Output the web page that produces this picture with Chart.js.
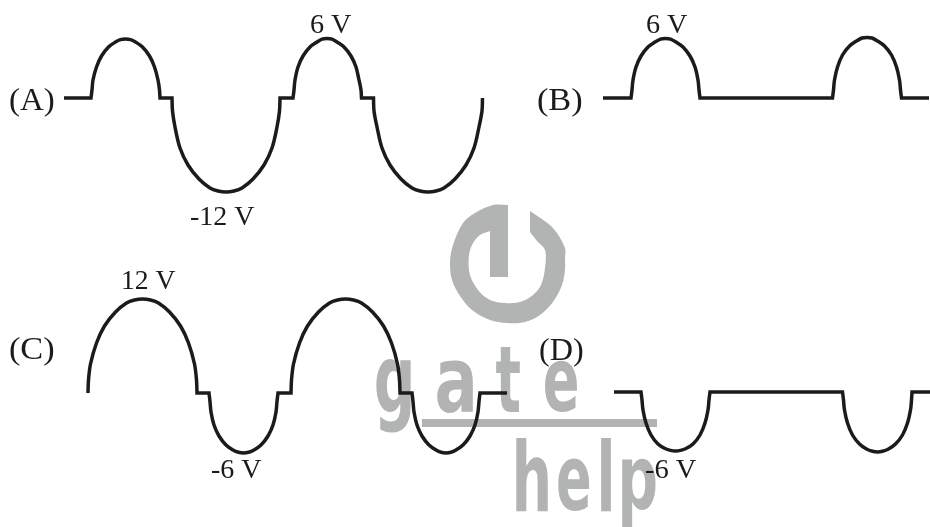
<!DOCTYPE html>
<html>
<head>
<meta charset="utf-8">
<script src="https://cdn.jsdelivr.net/npm/chart.js@4"></script>
<style>
    html, body { margin: 0; padding: 0; background: #fff; }
    canvas { display: block; }
</style>
</head>
<body>
<canvas id="waves" width="930" height="527"></canvas>
<script>
// all values, x and y in the picture's own units
// a point typed twice makes a sharp corner in the smoothed line
const waveAX = [64, 91, 91, 92, 93, 96.5, 101.5, 108.5, 115.5, 120.5, 125.5, 130.5, 135.5, 142.5, 149.5, 154.5, 158, 159.5, 160, 160,
    172, 172, 172.5, 175, 180, 188, 199, 210, 218, 226, 234, 242, 253, 264, 272, 277, 279.5, 280, 280,
    293, 293, 294, 295, 298, 303, 310, 317, 322, 327, 332, 337, 344, 351, 356, 359, 361, 361.5, 361.5,
    373.5, 373.5, 374, 377, 382, 390, 401, 412, 420, 428, 436, 444, 455, 466, 474, 479, 482, 482.5];
const waveAY = [98, 98, 98, 90, 80, 67, 56, 47, 42, 39.6, 39, 39.6, 42, 47, 56, 67, 80, 90, 98, 98,
    98, 98, 111, 127, 148, 165, 179, 188, 191, 192, 191, 188, 179, 165, 148, 127, 111, 98, 98,
    98, 98, 90, 80, 67, 56, 47, 42, 39.1, 38.5, 39.1, 42, 47, 56, 67, 80, 90, 98, 98,
    98, 98, 111, 127, 148, 165, 179, 188, 191, 192, 191, 188, 179, 165, 148, 127, 111, 98];

const waveBX = [603, 631, 631, 632, 633, 636, 641, 648, 655, 660.5, 665.5, 670.5, 676, 683, 690, 695, 698, 699, 700, 700,
    832.5, 832.5, 833.5, 834.5, 837.5, 842.5, 849.5, 856.5, 862, 867, 872, 877.5, 884.5, 891.5, 896.5, 899.5, 900.5, 901.5, 901.5, 929];
const waveBY = [98, 98, 98, 90, 80, 67, 56, 47, 42, 39.1, 38.5, 39.1, 42, 47, 56, 67, 80, 90, 98, 98,
    98, 98, 90, 80, 67, 55, 46, 41, 38, 37.5, 38, 41, 46, 55, 67, 80, 90, 98, 98, 98];

const waveCX = [88, 88.5, 90.5, 96.5, 104.5, 115.5, 126.5, 134.5, 142.5, 150.5, 158.5, 169.5, 180.5, 188.5, 194.5, 196.5, 197, 197,
    209, 209, 210, 211, 214, 219, 226, 233, 238.5, 243.5, 248.5, 254, 261, 268, 273, 276, 277, 278, 278,
    291, 291, 291.5, 293.5, 299.5, 307.5, 318.5, 329.5, 337.5, 345.5, 353.5, 361.5, 372.5, 383.5, 391.5, 397.5, 399.5, 400, 400,
    412, 412, 413, 414, 417, 422, 429, 436, 441, 446, 451, 456, 463, 470, 475, 478, 479, 480, 480, 507];
const waveCY = [393, 380, 364, 343, 326, 312, 303, 300, 299, 300, 303, 312, 326, 343, 364, 380, 393, 393,
    393, 393, 401.5, 412, 425, 436, 445, 450, 452.3, 453, 452.3, 450, 445, 436, 425, 412, 401.5, 393, 393,
    393, 393, 380, 364, 343, 326, 312, 303, 300, 299, 300, 303, 312, 326, 343, 364, 380, 393, 393,
    393, 393, 401.5, 412, 425, 436, 445, 450, 452.3, 453, 452.3, 450, 445, 436, 425, 412, 401.5, 393, 393, 393];

const waveDX = [614, 641, 641, 642, 643, 646, 651, 658, 665, 670.5, 675.5, 680.5, 686, 693, 700, 705, 708, 709, 710, 710,
    842.5, 842.5, 843.5, 844.5, 847.5, 852.5, 859.5, 866.5, 872.5, 877.5, 882.5, 888.5, 895.5, 902.5, 907.5, 910.5, 911.5, 912, 912, 930];
const waveDY = [392, 392, 392, 400, 410, 423, 435, 444, 448.5, 450.4, 451, 450.4, 448.5, 444, 435, 423, 410, 400, 392, 392,
    392, 392, 400, 410, 423, 435, 444, 449, 451.3, 452, 451.3, 449, 444, 435, 423, 410, 400, 392, 392, 392];

// the power-button logo behind the waves, traced as one outline
const logoX = [508, 508, 493, 475, 463, 453, 450, 452, 460, 472, 490, 507, 525, 540, 553, 562, 565, 565, 565, 553, 530, 530,
    530, 530, 537, 545, 545, 541, 533, 520, 505, 490, 478, 470, 468.7, 472, 480, 490, 490, 490, 490, 508, 508, 508];
const logoY = [205, 205, 205, 213, 223, 245, 262, 280, 296, 310, 320, 323, 322, 315, 302, 285, 270, 258, 248, 228, 211, 211,
    232, 232, 241, 250, 268, 285, 295, 302, 303, 300, 290, 275, 258, 245, 235, 231, 231, 277, 277, 277, 277, 205];
const ruleX = [422, 657];
const ruleY = [423, 423];

// text: string, left, right, baseline
const labelText = ['(A)', '(B)', '(C)', '(D)', '6 V', '6 V', '-12 V', '12 V', '-6 V', '-6 V'];
const labelLeft = [10, 538, 10, 540, 311, 647, 191, 123, 212, 646];
const labelRight = [54, 582, 54, 583, 352, 688, 255, 176, 262, 697];
const labelBase = [110, 110, 359, 360, 32.5, 32.5, 225, 289, 478, 478];
const labelSize = [32, 32, 32, 32, 27, 27, 27, 27, 27, 27];

// watermark letters: letter, left, right, top, bottom
const markText = ['g', 'a', 't', 'e', 'h', 'e', 'l', 'p'];
const markLeft = [376, 437, 496, 545, 516, 558, 601, 622];
const markRight = [411, 473, 520, 577, 548, 589, 611, 656];
const markTop = [360, 360, 347, 360, 438, 458, 438, 458];
const markBottom = [433, 413, 412, 412, 511, 511, 511, 527];

const INK = '#1c1a1b';
const GREY = '#b2b4b3';

function zip(xs, ys) {
    return xs.map((x, i) => ({x: x, y: ys[i]}));
}

function waveDataset(xs, ys) {
    return {
        data: zip(xs, ys),
        showLine: true,
        borderColor: INK,
        borderWidth: 3.5,
        tension: 0.33,
        pointRadius: 0,
        order: 0
    };
}

// stretch the text so it fills the same box as in the picture
function drawFitted(ctx, text, left, right, base) {
    const m = ctx.measureText(text);
    const sx = (right - left) / (m.actualBoundingBoxRight + m.actualBoundingBoxLeft);
    ctx.save();
    ctx.translate(left, base);
    ctx.scale(sx, 1);
    ctx.fillText(text, m.actualBoundingBoxLeft, 0);
    ctx.restore();
}

const watermarkPlugin = {
    id: 'watermark',
    beforeDatasetsDraw(chart) {
        const ctx = chart.ctx;
        const xs = chart.scales.x, ys = chart.scales.y;
        ctx.save();
        ctx.fillStyle = GREY;
        ctx.textBaseline = 'alphabetic';
        ctx.textAlign = 'left';
        ctx.font = 'bold 100px "DejaVu Sans"';
        markText.forEach((ch, i) => {
            const m = ctx.measureText(ch);
            const left = xs.getPixelForValue(markLeft[i]);
            const right = xs.getPixelForValue(markRight[i]);
            const top = ys.getPixelForValue(markTop[i]);
            const bottom = ys.getPixelForValue(markBottom[i]);
            const sx = (right - left) / (m.actualBoundingBoxRight + m.actualBoundingBoxLeft);
            const sy = (bottom - top) / (m.actualBoundingBoxAscent + m.actualBoundingBoxDescent);
            ctx.save();
            ctx.translate(left, top);
            ctx.scale(sx, sy);
            ctx.fillText(ch, m.actualBoundingBoxLeft, m.actualBoundingBoxAscent);
            ctx.restore();
        });
        ctx.restore();
    }
};

const labelPlugin = {
    id: 'labels',
    afterDatasetsDraw(chart) {
        const ctx = chart.ctx;
        const xs = chart.scales.x, ys = chart.scales.y;
        ctx.save();
        ctx.fillStyle = INK;
        ctx.textBaseline = 'alphabetic';
        ctx.textAlign = 'left';
        labelText.forEach((text, i) => {
            ctx.font = labelSize[i] + 'px "Liberation Serif"';
            drawFitted(ctx, text, xs.getPixelForValue(labelLeft[i]), xs.getPixelForValue(labelRight[i]), ys.getPixelForValue(labelBase[i]));
        });
        ctx.restore();
    }
};

new Chart(document.getElementById('waves').getContext('2d'), {
    type: 'scatter',
    data: {
        datasets: [
            waveDataset(waveAX, waveAY),
            waveDataset(waveBX, waveBY),
            waveDataset(waveCX, waveCY),
            waveDataset(waveDX, waveDY),
            {
                data: zip(ruleX, ruleY),
                showLine: true,
                borderColor: GREY,
                borderWidth: 8,
                pointRadius: 0,
                order: 1
            },
            {
                data: zip(logoX, logoY),
                showLine: true,
                fill: 'shape',
                tension: 0.33,
                backgroundColor: GREY,
                borderColor: GREY,
                borderWidth: 0,
                pointRadius: 0,
                order: 2
            }
        ]
    },
    options: {
        responsive: false,
        animation: false,
        layout: {padding: 0},
        plugins: {legend: {display: false}, tooltip: {enabled: false}},
        scales: {
            x: {type: 'linear', display: false, min: 0, max: 930},
            y: {type: 'linear', display: false, min: 0, max: 527, reverse: true}
        }
    },
    plugins: [watermarkPlugin, labelPlugin]
});
</script>
</body>
</html>
